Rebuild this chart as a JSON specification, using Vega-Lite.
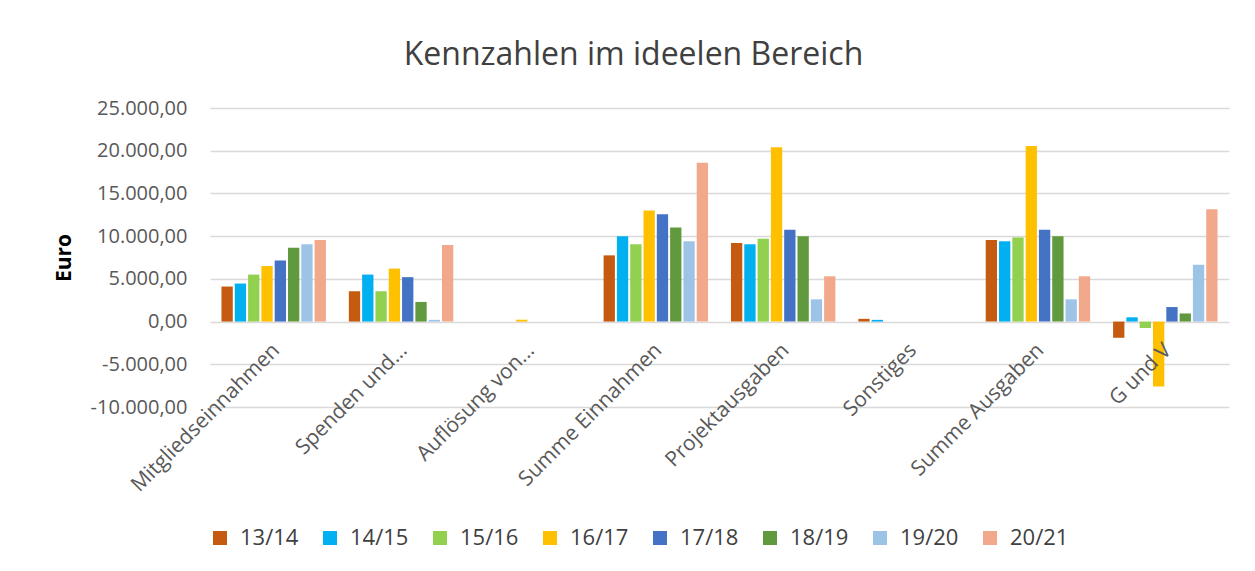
{
  "$schema": "https://vega.github.io/schema/vega-lite/v6.json",
  "autosize": {"type": "none"},
  "width": 1019,
  "height": 299,
  "padding": {"left": 210, "top": 108, "right": 26, "bottom": 164},
  "background": "white",
  "config": {
    "locale": {"number": {"decimal": ",", "thousands": ".", "grouping": [3], "currency": ["", " €"], "minus": "-"}},
    "font": "Open Sans",
    "view": {"stroke": null}
  },
  "title": {
    "text": "Kennzahlen im ideelen Bereich",
    "font": "Open Sans",
    "fontSize": 32,
    "fontWeight": "normal",
    "color": "#404040",
    "anchor": "middle",
    "frame": "group",
    "dx": -86,
    "baseline": "alphabetic",
    "offset": 1
  },
  "data": {
    "values": [
      {"Kategorie": "Mitgliedseinnahmen", "Jahr": "13/14", "Wert": 4100},
      {"Kategorie": "Mitgliedseinnahmen", "Jahr": "14/15", "Wert": 4450},
      {"Kategorie": "Mitgliedseinnahmen", "Jahr": "15/16", "Wert": 5500},
      {"Kategorie": "Mitgliedseinnahmen", "Jahr": "16/17", "Wert": 6500},
      {"Kategorie": "Mitgliedseinnahmen", "Jahr": "17/18", "Wert": 7150},
      {"Kategorie": "Mitgliedseinnahmen", "Jahr": "18/19", "Wert": 8650},
      {"Kategorie": "Mitgliedseinnahmen", "Jahr": "19/20", "Wert": 9050},
      {"Kategorie": "Mitgliedseinnahmen", "Jahr": "20/21", "Wert": 9550},
      {"Kategorie": "Spenden und...", "Jahr": "13/14", "Wert": 3550},
      {"Kategorie": "Spenden und...", "Jahr": "14/15", "Wert": 5500},
      {"Kategorie": "Spenden und...", "Jahr": "15/16", "Wert": 3550},
      {"Kategorie": "Spenden und...", "Jahr": "16/17", "Wert": 6200},
      {"Kategorie": "Spenden und...", "Jahr": "17/18", "Wert": 5200},
      {"Kategorie": "Spenden und...", "Jahr": "18/19", "Wert": 2300},
      {"Kategorie": "Spenden und...", "Jahr": "19/20", "Wert": 200},
      {"Kategorie": "Spenden und...", "Jahr": "20/21", "Wert": 8950},
      {"Kategorie": "Auflösung von...", "Jahr": "13/14", "Wert": 0},
      {"Kategorie": "Auflösung von...", "Jahr": "14/15", "Wert": 0},
      {"Kategorie": "Auflösung von...", "Jahr": "15/16", "Wert": 0},
      {"Kategorie": "Auflösung von...", "Jahr": "16/17", "Wert": 220},
      {"Kategorie": "Auflösung von...", "Jahr": "17/18", "Wert": 0},
      {"Kategorie": "Auflösung von...", "Jahr": "18/19", "Wert": 0},
      {"Kategorie": "Auflösung von...", "Jahr": "19/20", "Wert": 0},
      {"Kategorie": "Auflösung von...", "Jahr": "20/21", "Wert": 0},
      {"Kategorie": "Summe Einnahmen", "Jahr": "13/14", "Wert": 7750},
      {"Kategorie": "Summe Einnahmen", "Jahr": "14/15", "Wert": 10000},
      {"Kategorie": "Summe Einnahmen", "Jahr": "15/16", "Wert": 9050},
      {"Kategorie": "Summe Einnahmen", "Jahr": "16/17", "Wert": 13000},
      {"Kategorie": "Summe Einnahmen", "Jahr": "17/18", "Wert": 12550},
      {"Kategorie": "Summe Einnahmen", "Jahr": "18/19", "Wert": 11000},
      {"Kategorie": "Summe Einnahmen", "Jahr": "19/20", "Wert": 9400},
      {"Kategorie": "Summe Einnahmen", "Jahr": "20/21", "Wert": 18600},
      {"Kategorie": "Projektausgaben", "Jahr": "13/14", "Wert": 9200},
      {"Kategorie": "Projektausgaben", "Jahr": "14/15", "Wert": 9050},
      {"Kategorie": "Projektausgaben", "Jahr": "15/16", "Wert": 9700},
      {"Kategorie": "Projektausgaben", "Jahr": "16/17", "Wert": 20400},
      {"Kategorie": "Projektausgaben", "Jahr": "17/18", "Wert": 10750},
      {"Kategorie": "Projektausgaben", "Jahr": "18/19", "Wert": 10000},
      {"Kategorie": "Projektausgaben", "Jahr": "19/20", "Wert": 2600},
      {"Kategorie": "Projektausgaben", "Jahr": "20/21", "Wert": 5300},
      {"Kategorie": "Sonstiges", "Jahr": "13/14", "Wert": 320},
      {"Kategorie": "Sonstiges", "Jahr": "14/15", "Wert": 200},
      {"Kategorie": "Sonstiges", "Jahr": "15/16", "Wert": 0},
      {"Kategorie": "Sonstiges", "Jahr": "16/17", "Wert": 0},
      {"Kategorie": "Sonstiges", "Jahr": "17/18", "Wert": 0},
      {"Kategorie": "Sonstiges", "Jahr": "18/19", "Wert": 0},
      {"Kategorie": "Sonstiges", "Jahr": "19/20", "Wert": 0},
      {"Kategorie": "Sonstiges", "Jahr": "20/21", "Wert": 0},
      {"Kategorie": "Summe Ausgaben", "Jahr": "13/14", "Wert": 9550},
      {"Kategorie": "Summe Ausgaben", "Jahr": "14/15", "Wert": 9400},
      {"Kategorie": "Summe Ausgaben", "Jahr": "15/16", "Wert": 9850},
      {"Kategorie": "Summe Ausgaben", "Jahr": "16/17", "Wert": 20550},
      {"Kategorie": "Summe Ausgaben", "Jahr": "17/18", "Wert": 10750},
      {"Kategorie": "Summe Ausgaben", "Jahr": "18/19", "Wert": 10000},
      {"Kategorie": "Summe Ausgaben", "Jahr": "19/20", "Wert": 2600},
      {"Kategorie": "Summe Ausgaben", "Jahr": "20/21", "Wert": 5300},
      {"Kategorie": "G und V", "Jahr": "13/14", "Wert": -1900},
      {"Kategorie": "G und V", "Jahr": "14/15", "Wert": 500},
      {"Kategorie": "G und V", "Jahr": "15/16", "Wert": -750},
      {"Kategorie": "G und V", "Jahr": "16/17", "Wert": -7600},
      {"Kategorie": "G und V", "Jahr": "17/18", "Wert": 1700},
      {"Kategorie": "G und V", "Jahr": "18/19", "Wert": 950},
      {"Kategorie": "G und V", "Jahr": "19/20", "Wert": 6650},
      {"Kategorie": "G und V", "Jahr": "20/21", "Wert": 13150}
    ]
  },
  "mark": {"type": "bar"},
  "encoding": {
    "x": {
      "field": "Kategorie",
      "type": "nominal",
      "sort": null,
      "scale": {"paddingInner": 0.18, "paddingOuter": 0.09},
      "axis": {
        "title": null,
        "domain": false,
        "ticks": false,
        "tickSize": 0,
        "offset": -86,
        "zindex": 1,
        "labelAngle": -45,
        "labelAlign": "right",
        "labelBaseline": "top",
        "labelPadding": 18,
        "labelOffset": -5,
        "labelFont": "Open Sans",
        "labelFontSize": 21,
        "labelColor": "#595959",
        "labelLimit": 400,
        "grid": false
      }
    },
    "xOffset": {
      "field": "Jahr",
      "type": "nominal",
      "scale": {"paddingInner": 0.15, "paddingOuter": 0}
    },
    "y": {
      "field": "Wert",
      "type": "quantitative",
      "scale": {"domain": [-10000, 25000], "nice": false, "zero": true},
      "axis": {
        "title": "Euro",
        "titleFont": "Open Sans",
        "titleFontSize": 21,
        "titleFontWeight": "bold",
        "titleColor": "#000000",
        "titlePadding": 16,
        "values": [-10000, -5000, 0, 5000, 10000, 15000, 20000, 25000],
        "format": ",.2f",
        "domain": false,
        "ticks": false,
        "tickSize": 0,
        "labelPadding": 23,
        "labelFont": "Open Sans",
        "labelFontSize": 20,
        "labelColor": "#595959",
        "gridColor": "#D9D9D9",
        "gridWidth": 1.3
      }
    },
    "color": {
      "field": "Jahr",
      "type": "nominal",
      "scale": {
        "domain": ["13/14", "14/15", "15/16", "16/17", "17/18", "18/19", "19/20", "20/21"],
        "range": ["#C55A11", "#00B0F0", "#92D050", "#FFC000", "#4472C4", "#60993E", "#9DC3E6", "#F2A98B"]
      },
      "legend": {
        "title": null,
        "orient": "none",
        "direction": "horizontal",
        "columns": 8,
        "legendX": -1,
        "legendY": 419,
        "padding": 0,
        "symbolType": "square",
        "symbolSize": 196,
        "symbolStrokeWidth": 0,
        "labelOffset": 9,
        "labelFont": "Open Sans",
        "labelFontSize": 22,
        "labelColor": "#404040",
        "columnPadding": 20
      }
    }
  }
}
